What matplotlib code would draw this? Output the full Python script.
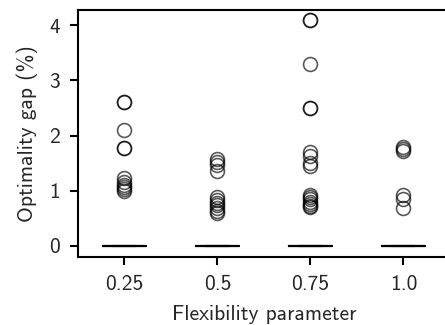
"""
plot.py - optimality gap per flexibility setting (boxplot, fliers only).
"""

import matplotlib
matplotlib.use("Agg")
import matplotlib.pyplot as plt

plt.rcParams["font.family"] = ["cmss10", "DejaVu Sans"]
plt.rcParams["axes.unicode_minus"] = False

flex_labels = ["0.25", "0.5", "0.75", "1.0"]

# nonzero gaps (%) per flexibility setting; every other instance solved to 0
gaps_025 = [2.6, 2.6, 2.1, 1.78, 1.78, 1.22, 1.15, 1.1, 1.07, 1.03, 1.0]
gaps_050 = [1.57, 1.52, 1.47, 1.35, 0.88, 0.82, 0.78, 0.73, 0.68, 0.63, 0.6]
gaps_075 = [4.1, 4.1, 3.3, 2.5, 2.5, 1.7, 1.62, 1.5, 1.45,
            0.92, 0.88, 0.85, 0.8, 0.76, 0.72, 0.7]
gaps_100 = [1.8, 1.75, 1.72, 0.91, 0.85, 0.68]
n_zero = 100

groups = [g + [0.0] * n_zero for g in (gaps_025, gaps_050, gaps_075, gaps_100)]

fig = plt.figure(figsize=(4.45, 3.25), dpi=100)
ax = fig.add_axes([0.175, 0.209, 0.836, 0.760])

ax.boxplot(groups, positions=range(len(groups)), widths=0.47,
           boxprops=dict(color="k", lw=1.5),
           medianprops=dict(color="k", lw=1.5),
           whiskerprops=dict(color="k", lw=1.5),
           capprops=dict(color="k", lw=1.5),
           flierprops=dict(marker="o", markersize=10, markerfacecolor="none",
                           markeredgecolor="k", markeredgewidth=1.2, alpha=0.65))

ax.set_xlim(-0.5, 3.5)
ax.set_ylim(-0.21, 4.28)
ax.set_xticks(range(len(flex_labels)))
ax.set_xticklabels(flex_labels)
ax.set_yticks([0, 1, 2, 3, 4])
ax.tick_params(direction="out", length=6, width=1.5, labelsize=15.5,
               pad=7, labelcolor="#262626")
for s in ax.spines.values():
    s.set_linewidth(1.5)
ax.set_xlabel("Flexibility parameter", fontsize=15.5, labelpad=8, color="#262626")
ax.set_ylabel("Optimality gap (%)", fontsize=15.5, labelpad=8, color="#262626")

fig.savefig("out.png", dpi=100)
